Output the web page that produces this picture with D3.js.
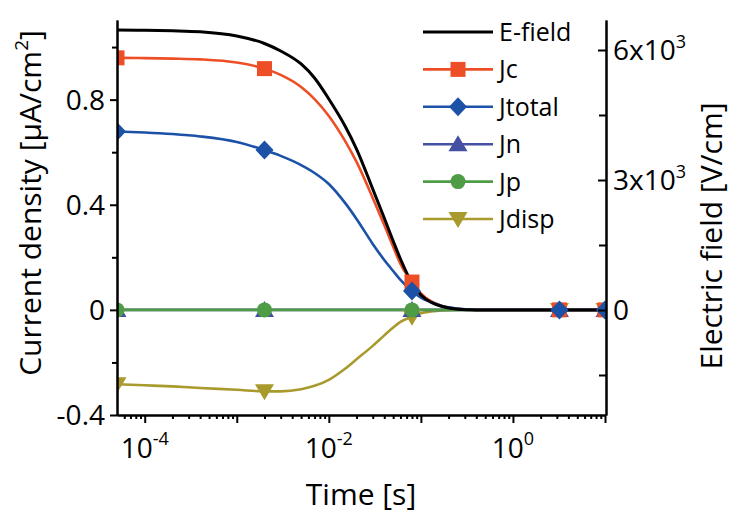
<!DOCTYPE html>
<html>
<head>
<meta charset="utf-8">
<script src="https://cdn.jsdelivr.net/npm/d3@7"></script>
<style>
  body { margin: 0; background: #fff; }
  text { font-family: "Open Sans", "Noto Sans", sans-serif; fill: #000; }
</style>
</head>
<body>
<svg id="chart" width="731" height="514"></svg>
<script>
// Time samples [s] along the transient
const times = [5e-5, 1e-4, 2e-4, 4e-4, 1e-3, 2e-3, 3e-3, 5e-3, 7e-3, 0.01, 0.015, 0.02,
               0.03, 0.04, 0.05, 0.06, 0.08, 0.1, 0.13, 0.17, 0.25, 0.4, 1, 3.2, 10];
// Electric field [V/cm] (right axis)
const eField = [6462, 6455, 6443, 6420, 6323, 6150, 5977, 5677, 5354, 4869, 4246, 3715,
                2792, 2123, 1592, 1177, 623, 346, 173, 81, 16, 0, 0, 0, 0];
// Current densities [uA/cm2] (left axis)
const jc = [0.959, 0.958, 0.956, 0.953, 0.941, 0.918, 0.894, 0.848, 0.802, 0.738, 0.643, 0.563,
            0.426, 0.323, 0.240, 0.175, 0.106, 0.063, 0.032, 0.015, 0.004, 0, 0, 0, 0];
const jtotal = [0.679, 0.675, 0.669, 0.660, 0.639, 0.608, 0.586, 0.551, 0.521, 0.479, 0.407, 0.346,
                0.251, 0.190, 0.148, 0.114, 0.072, 0.047, 0.029, 0.015, 0.005, 0, 0, 0, 0];
const jn = [0, 0, 0, 0, 0, 0, 0, 0, 0, 0, 0, 0, 0, 0, 0, 0, 0, 0, 0, 0, 0, 0, 0, 0, 0];
const jp = [0, 0, 0, 0, 0, 0, 0, 0, 0, 0, 0, 0, 0, 0, 0, 0, 0, 0, 0, 0, 0, 0, 0, 0, 0];
const jdisp = [-0.283, -0.287, -0.291, -0.297, -0.304, -0.310, -0.310, -0.302, -0.289, -0.266, -0.224, -0.188,
               -0.137, -0.097, -0.067, -0.046, -0.026, -0.013, -0.006, -0.002, 0, 0, 0, 0, 0];
// Times at which symbols are placed
const markerTimes = [5e-5, 2e-3, 0.08, 3.2, 10];

// Axis ticks and labels
const xLabelTicks = [1e-4, 1e-2, 1];
const xLabelExps = ["-4", "-2", "0"];
const xMajorTicks = [1e-4, 1e-3, 1e-2, 1e-1, 1, 10];
const yLeftTicks = [-0.4, 0, 0.4, 0.8];
const yLeftLabels = ["-0.4", "0", "0.4", "0.8"];
const yLeftMinor = [-0.2, 0.2, 0.6, 1.0];
const yRightTicks = [0, 3000, 6000];
const yRightBase = ["0", "3x10", "6x10"];
const yRightExp = ["", "3", "3"];
const yRightMinor = [-1500, 1500, 4500];

const seriesNames = ["E-field", "Jc", "Jtotal", "Jn", "Jp", "Jdisp"];
const seriesColors = ["#000000", "#EE4E25", "#1B51A6", "#4650A3", "#4E9C45", "#A99A2D"];
const seriesSymbols = [null, "square", "diamond", "triUp", "circle", "triDown"];

const svg = d3.select("#chart");
svg.append("rect").attr("width", 731).attr("height", 514).attr("fill", "#fff");

const L = 117, R = 605, T = 20, B = 415;
const x = d3.scaleLog().domain([5e-5, 10]).range([L, R]);
const yL = d3.scaleLinear().domain([-0.4, 1.103]).range([B, T]);
const yR = d3.scaleLinear().domain([-2423, 6692]).range([B, T]);

svg.append("clipPath").attr("id", "plotclip")
  .append("rect").attr("x", L).attr("y", 0).attr("width", R - L + 1).attr("height", B + 1);

function symbolPath(kind) {
  switch (kind) {
    case "square": return "M-7.5,-7.5H7.5V7.5H-7.5Z";
    case "diamond": return "M0,-9.5L9,0L0,9.5L-9,0Z";
    case "triUp": return "M0,-9L9.5,7L-9.5,7Z";
    case "triDown": return "M0,9L9.5,-7L-9.5,-7Z";
    case "circle": return "M7.5,0A7.5,7.5 0 1,1 -7.5,0A7.5,7.5 0 1,1 7.5,0Z";
  }
  return "";
}

const jSeries = { "Jc": jc, "Jtotal": jtotal, "Jn": jn, "Jp": jp, "Jdisp": jdisp };
const drawOrder = ["Jdisp", "Jn", "Jp", "Jc", "Jtotal"];

const plot = svg.append("g").attr("clip-path", "url(#plotclip)");

const lineL = d3.line().x(d => x(d[0])).y(d => yL(d[1])).curve(d3.curveMonotoneX);
const lineR = d3.line().x(d => x(d[0])).y(d => yR(d[1])).curve(d3.curveMonotoneX);

drawOrder.forEach(name => {
  const i = seriesNames.indexOf(name);
  const pts = times.map((t, k) => [t, jSeries[name][k]]);
  plot.append("path").attr("d", lineL(pts)).attr("fill", "none")
    .attr("stroke", seriesColors[i]).attr("stroke-width", 2.6);
});

plot.append("path")
  .attr("d", lineR(times.map((t, k) => [t, eField[k]])))
  .attr("fill", "none").attr("stroke", "#000").attr("stroke-width", 3);

drawOrder.forEach(name => {
  const i = seriesNames.indexOf(name);
  const pts = times.map((t, k) => [t, jSeries[name][k]]).filter(p => markerTimes.includes(p[0]));
  plot.selectAll(null).data(pts).enter().append("path")
    .attr("d", symbolPath(seriesSymbols[i]))
    .attr("transform", d => `translate(${x(d[0])},${yL(d[1])})`)
    .attr("fill", seriesColors[i]);
});

// Axes
function styleAxis(g) {
  g.selectAll("path.domain").attr("stroke", "#000").attr("stroke-width", 2);
  g.selectAll(".tick line").attr("stroke", "#000").attr("stroke-width", 2);
  g.selectAll(".tick text").remove();
}

const minorX = x.ticks().filter(t => !xMajorTicks.some(m => Math.abs(m - t) / m < 1e-6) && t > 5.01e-5);
svg.append("g").attr("transform", `translate(0,${B})`)
  .call(d3.axisBottom(x).tickValues(minorX).tickSizeInner(4).tickSizeOuter(0)).call(styleAxis);
svg.append("g").attr("transform", `translate(0,${B})`)
  .call(d3.axisBottom(x).tickValues(xMajorTicks).tickSizeInner(8).tickSizeOuter(0)).call(styleAxis);

svg.append("g").attr("transform", `translate(${L},0)`)
  .call(d3.axisLeft(yL).tickValues(yLeftMinor).tickSizeInner(5).tickSizeOuter(0)).call(styleAxis);
svg.append("g").attr("transform", `translate(${L},0)`)
  .call(d3.axisLeft(yL).tickValues(yLeftTicks).tickSizeInner(7).tickSizeOuter(0)).call(styleAxis);

svg.append("g").attr("transform", `translate(${R + 1},0)`)
  .call(d3.axisRight(yR).tickValues(yRightMinor).tickSizeInner(-7).tickSizeOuter(0)).call(styleAxis);
svg.append("g").attr("transform", `translate(${R + 1},0)`)
  .call(d3.axisRight(yR).tickValues(yRightTicks).tickSizeInner(-8).tickSizeOuter(0)).call(styleAxis);

// Tick labels
yLeftTicks.forEach((v, k) => {
  svg.append("text").attr("x", 105).attr("y", yL(v) + 10)
    .attr("text-anchor", "end").attr("font-size", 28).text(yLeftLabels[k]);
});
yRightTicks.forEach((v, k) => {
  const t = svg.append("text").attr("x", 613).attr("y", yR(v) + 10).attr("font-size", 28);
  t.append("tspan").text(yRightBase[k]);
  if (yRightExp[k]) t.append("tspan").attr("font-size", 18).attr("dy", -12).text(yRightExp[k]);
});
xLabelTicks.forEach((v, k) => {
  const t = svg.append("text").attr("x", x(v)).attr("y", 458)
    .attr("text-anchor", "middle").attr("font-size", 28);
  t.append("tspan").text("10");
  t.append("tspan").attr("font-size", 18).attr("dy", -13).text(xLabelExps[k]);
});

// Axis titles
svg.append("text").attr("x", 361).attr("y", 505).attr("text-anchor", "middle")
  .attr("font-size", 30).text("Time [s]");
const lt = svg.append("text").attr("transform", "translate(41,203) rotate(-90)")
  .attr("text-anchor", "middle").attr("font-size", 30);
lt.append("tspan").text("Current density [μA/cm");
lt.append("tspan").attr("font-size", 19).attr("dy", -13).text("2");
lt.append("tspan").attr("dy", 13).text("]");
svg.append("text").attr("transform", "translate(722,236) rotate(-90)")
  .attr("text-anchor", "middle").attr("font-size", 30).text("Electric field [V/cm]");

// Legend
const legend = svg.append("g");
seriesNames.forEach((name, i) => {
  const yy = 32 + i * 37.4;
  legend.append("line").attr("x1", 423).attr("x2", 493).attr("y1", yy).attr("y2", yy)
    .attr("stroke", seriesColors[i]).attr("stroke-width", i === 0 ? 3 : 2.6);
  if (seriesSymbols[i]) {
    legend.append("path").attr("d", symbolPath(seriesSymbols[i]))
      .attr("transform", `translate(458,${yy})`).attr("fill", seriesColors[i]);
  }
  legend.append("text").attr("x", 499).attr("y", yy + 9).attr("font-size", 25).text(name);
});
</script>
</body>
</html>
